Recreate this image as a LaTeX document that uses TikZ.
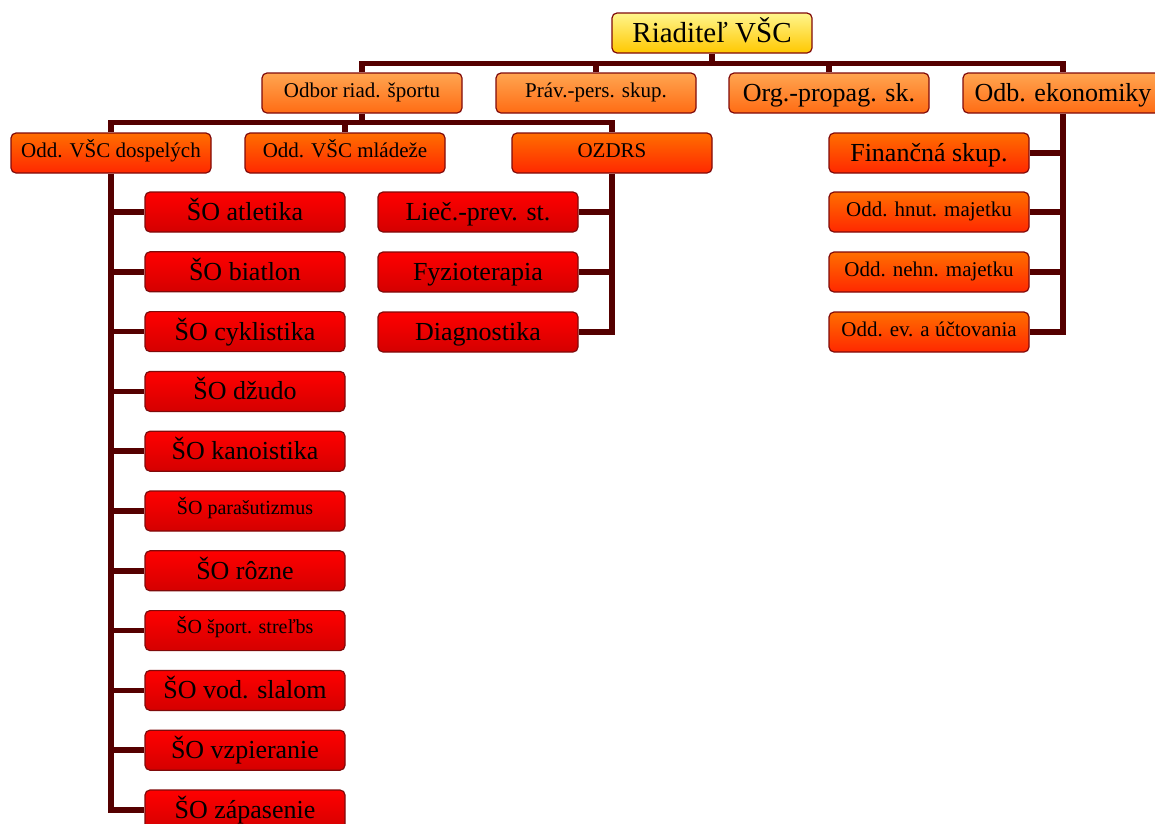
\documentclass[tikz,border=0pt]{standalone}
\usepackage{fontspec}
\setmainfont{Liberation Serif}
\usetikzlibrary{backgrounds}
\definecolor{conncol}{RGB}{85,0,0}
\definecolor{bordcol}{RGB}{128,10,10}
\definecolor{ytop}{RGB}{255,245,140}
\definecolor{ybot}{RGB}{255,200,0}
\definecolor{otop}{RGB}{255,165,80}
\definecolor{obot}{RGB}{255,108,20}
\definecolor{rotop}{RGB}{255,110,0}
\definecolor{robot}{RGB}{255,40,0}
\definecolor{rtop}{RGB}{255,0,0}
\definecolor{rbot}{RGB}{212,0,0}
\tikzset{
  box/.style={draw=bordcol, line width=1.2pt, rounded corners=5pt,
    minimum width=200pt, minimum height=40pt, inner sep=0pt, align=center},
  big/.style={font=\fontsize{26}{30}\selectfont, text height=20pt, text depth=3pt},
  small/.style={font=\fontsize{21}{24}\selectfont, text height=16pt, text depth=8pt},
  tiny/.style={font=\fontsize{20}{24}\selectfont, text height=14pt, text depth=8pt},
  huge/.style={font=\fontsize{29}{33}\selectfont, text height=22pt, text depth=3.4pt},
  ybox/.style={box, top color=ytop, bottom color=ybot},
  obox/.style={box, top color=otop, bottom color=obot},
  robox/.style={box, top color=rotop, bottom color=robot},
  rbox/.style={box, top color=rtop, bottom color=rbot},
  conn/.style={draw=conncol, line width=5.5pt, line join=miter}
}
\begin{document}
\begin{tikzpicture}[x=1pt,y=-1pt]
\clip (0,0) rectangle (1155,823);
% top
\node[ybox, huge] (dir) at (712,33) {Riaditeľ VŠC};
% level 2
\node[obox, small] (odbor) at (362,93) {Odbor riad. športu};
\node[obox, small] (prav) at (596,93) {Práv.-pers. skup.};
\node[obox, big] (org) at (829,93) {Org.-propag. sk.};
\node[obox, big] (ekon) at (1063,93) {Odb. ekonomiky};
% level 3
\node[robox, small] (dosp) at (111,153) {Odd. VŠC dospelých};
\node[robox, small] (mlad) at (345,153) {Odd. VŠC mládeže};
\node[robox, small] (ozdrs) at (612,153) {OZDRS};
% sport branches
\node[rbox, big] (s1) at (245,212) {ŠO atletika};
\node[rbox, big] (s2) at (245,271.8) {ŠO biatlon};
\node[rbox, big] (s3) at (245,331.6) {ŠO cyklistika};
\node[rbox, big] (s4) at (245,391.4) {ŠO džudo};
\node[rbox, big] (s5) at (245,451.2) {ŠO kanoistika};
\node[rbox, tiny] (s6) at (245,511) {ŠO parašutizmus};
\node[rbox, big] (s7) at (245,570.8) {ŠO rôzne};
\node[rbox, tiny] (s8) at (245,630.6) {ŠO šport. streľbs};
\node[rbox, big] (s9) at (245,690.4) {ŠO vod. slalom};
\node[rbox, big] (s10) at (245,750.2) {ŠO vzpieranie};
\node[rbox, big] (s11) at (245,810) {ŠO zápasenie};
% OZDRS children
\node[rbox, big] (liec) at (478,212) {Lieč.-prev. st.};
\node[rbox, big] (fyz) at (478,272) {Fyzioterapia};
\node[rbox, big] (diag) at (478,332) {Diagnostika};
% economy children
\node[robox, big] (fin) at (929,153) {Finančná skup.};
\node[robox, small] (hnut) at (929,212) {Odd. hnut. majetku};
\node[robox, small] (nehn) at (929,272) {Odd. nehn. majetku};
\node[robox, small] (ev) at (929,332) {Odd. ev. a účtovania};
% connectors
\begin{scope}[on background layer]
  \draw[conn] (dir.south) -- ++(0,10) coordinate (j1);
  \draw[conn] (odbor.north) |- (j1) -| (ekon.north);
  \draw[conn] (prav.north) -- (prav.north |- j1);
  \draw[conn] (org.north) -- (org.north |- j1);
  \draw[conn] (odbor.south) -- ++(0,9) coordinate (j2);
  \draw[conn] (dosp.north) |- (j2) -| (ozdrs.north);
  \draw[conn] (mlad.north) -- (mlad.north |- j2);
  \draw[conn] (dosp.south) |- (s11.west);
  \foreach \s in {s1,s2,s3,s4,s5,s6,s7,s8,s9,s10}
    \draw[conn] (\s.west) -- (dosp.south |- \s.west);
  \draw[conn] (ozdrs.south) |- (diag.east);
  \draw[conn] (liec.east) -- (ozdrs.south |- liec.east);
  \draw[conn] (fyz.east) -- (ozdrs.south |- fyz.east);
  \draw[conn] (ekon.south) |- (ev.east);
  \draw[conn] (fin.east) -- (ekon.south |- fin.east);
  \draw[conn] (hnut.east) -- (ekon.south |- hnut.east);
  \draw[conn] (nehn.east) -- (ekon.south |- nehn.east);
\end{scope}
\end{tikzpicture}
\end{document}
